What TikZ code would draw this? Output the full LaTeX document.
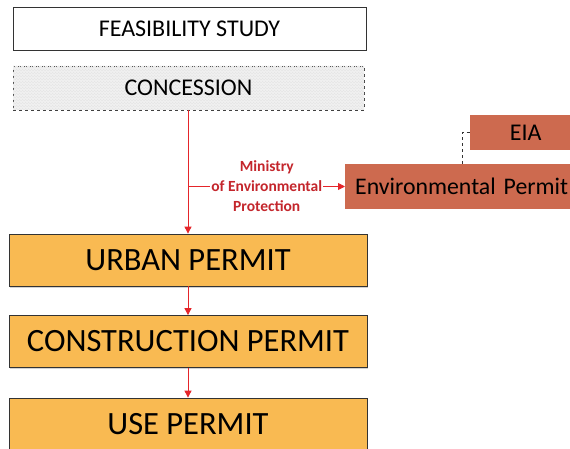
\documentclass[tikz,border=0pt]{standalone}
\usepackage{fontspec}
\setmainfont{Carlito}
\usetikzlibrary{arrows.meta,patterns,shadows}
\definecolor{permitorange}{HTML}{F9BA52}
\definecolor{envred}{HTML}{CD6A4F}
\definecolor{linkred}{HTML}{E5252A}
\definecolor{labelred}{HTML}{C4262C}
\begin{document}
\begin{tikzpicture}[x=1pt,y=-1pt,
    box/.style={draw=black!80,line width=0.8pt,minimum height=43pt,
      drop shadow={shadow xshift=1pt,shadow yshift=-1.5pt,opacity=0.35}},
    permit/.style={box,fill=permitorange,minimum width=358pt,minimum height=52pt,font=\fontsize{32.5}{36}\selectfont},
    envbox/.style={fill=envred,inner ysep=0pt,inner xsep=10pt,anchor=west},
    link/.style={linkred,line width=0.9pt,-{Triangle[length=7pt,width=7pt]}}]
  \clip (0,0) rectangle (570,449);
  \fill[white] (0,0) rectangle (570,449);
  % study and concession
  \node[box,fill=white,minimum width=353pt,font=\fontsize{24}{28}\selectfont] (study) at (189.5,28.5) {FEASIBILITY STUDY};
  \node[draw=black!75,dashed,line width=0.8pt,fill=gray!10,
    postaction={pattern=crosshatch,pattern color=gray!20},
    minimum width=351pt,minimum height=44pt,font=\fontsize{24}{28}\selectfont] (conc) at (188.5,88) {CONCESSION};
  % permits
  \node[permit] (urban) at (188,260) {URBAN PERMIT};
  \node[permit] (constr) at (188,341.5) {CONSTRUCTION PERMIT};
  \node[permit] (use) at (188,424) {USE PERMIT};
  \node[envbox,text width=240pt,align=left,minimum height=45pt,font=\fontsize{23.8}{28}\selectfont] (env) at (345,186.5) {Environmental Permit};
  \node[envbox,text width=91pt,align=center,minimum height=35pt,font=\fontsize{24}{28}\selectfont] (eia) at (470,132.5) {EIA};
  % connectors
  \coordinate (split) at (conc.south |- env.west);
  \draw[link] (conc.south -| urban.north) -- (urban.north);
  \draw[link] (urban) -- (constr);
  \draw[link] (constr) -- (use);
  \draw[link] (split) -- (env.west)
    node[midway,fill=white,inner sep=1pt,text=labelred,align=center,
      font=\bfseries\fontsize{15.5}{20}\selectfont] (ministry) {Ministry\\of Environmental\\Protection};
  \draw[dashed,black!80,line width=0.8pt] (env.north -| 462,0) |- (eia.west);
\end{tikzpicture}
\end{document}
